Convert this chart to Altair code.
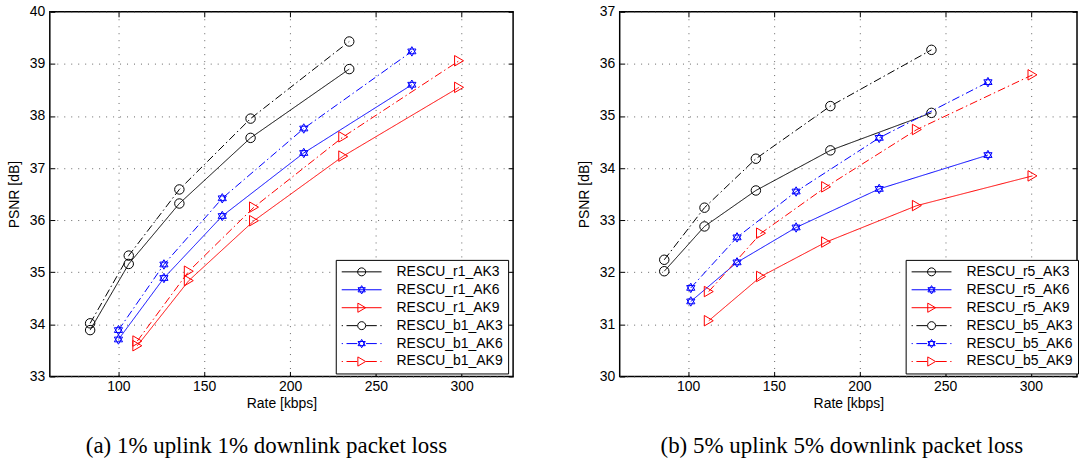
import altair as alt
import pandas as pd

# ---------------- data ----------------
X_TICKS = [100, 150, 200, 250, 300]

names_a = ["RESCU_r1_AK3", "RESCU_r1_AK6", "RESCU_r1_AK9",
           "RESCU_b1_AK3", "RESCU_b1_AK6", "RESCU_b1_AK9"]
rate_a_ak3 = [83.5, 106, 135.5, 177, 234.5]
rate_a_ak6 = [100, 126.5, 160.5, 208, 271]
rate_a_ak9 = [111, 141, 179, 231, 298.5]
psnr_r1_ak3 = [33.89, 35.16, 36.32, 37.58, 38.90]
psnr_r1_ak6 = [33.71, 34.89, 36.08, 37.29, 38.60]
psnr_r1_ak9 = [33.59, 34.84, 35.99, 37.23, 38.55]
psnr_b1_ak3 = [34.02, 35.32, 36.59, 37.95, 39.43]
psnr_b1_ak6 = [33.89, 35.15, 36.42, 37.76, 39.24]
psnr_b1_ak9 = [33.68, 35.02, 36.25, 37.60, 39.06]

names_b = ["RESCU_r5_AK3", "RESCU_r5_AK6", "RESCU_r5_AK9",
           "RESCU_b5_AK3", "RESCU_b5_AK6", "RESCU_b5_AK9"]
rate_b_ak3 = [86, 109.5, 139.5, 183, 242]
rate_b_ak6 = [101.5, 128.5, 163, 211.5, 275]
rate_b_ak9 = [112, 142.5, 180.5, 233.5, 301]
psnr_r5_ak3 = [32.02, 32.88, 33.57, 34.34, 35.06]
psnr_r5_ak6 = [31.44, 32.19, 32.86, 33.60, 34.25]
psnr_r5_ak9 = [31.07, 31.92, 32.58, 33.28, 33.85]
psnr_b5_ak3 = [32.24, 33.24, 34.18, 35.19, 36.27]
psnr_b5_ak6 = [31.70, 32.67, 33.55, 34.58, 35.65]
psnr_b5_ak9 = [31.63, 32.75, 33.64, 34.74, 35.79]

caption_a = "(a) 1% uplink 1% downlink packet loss"
caption_b = "(b) 5% uplink 5% downlink packet loss"

# ---------------- styles ----------------
COLORS = ["#000000", "#0000ff", "#ff0000"] * 2
DASH_DOT = [8, 3, 1.5, 3]
DASHES = [[1, 0]] * 3 + [DASH_DOT] * 3

CIRCLE = "M0.95,0A0.95,0.95,0,1,1,-0.95,0A0.95,0.95,0,1,1,0.95,0Z"
HEXA = ("M0,-0.95L0.823,0.475L-0.823,0.475Z"
        "M0,0.95L0.823,-0.475L-0.823,-0.475Z")
TRI = "M-0.9,-1.05L0.9,0L-0.9,1.05Z"
MARKERS = [CIRCLE, HEXA, TRI] * 2

L_CIRCLE = "M1,0A1,1,0,1,1,-1,0A1,1,0,1,1,1,0Z"
L_HEXA = "M0,-1.05L0.91,0.525L-0.91,0.525ZM0,1.05L0.91,-0.525L-0.91,-0.525Z"
L_TRI = "M-0.95,-1.15L1,0L-0.95,1.15Z"
SOLID_SEG = "M-5,0L5,0"
DD_SEG = "M-5,0L-4.7,0M-3.8,0L-1.1,0M1.1,0L3.8,0M4.7,0L5,0"
LEG_SYMS = [SOLID_SEG + L_CIRCLE, SOLID_SEG + L_HEXA, SOLID_SEG + L_TRI,
            DD_SEG + L_CIRCLE, DD_SEG + L_HEXA, DD_SEG + L_TRI]


def make_df(names, rates, values):
    rows = []
    for n, r, v in zip(names, rates, values):
        for xx, yy in zip(r, v):
            rows.append({"series": n, "rate": xx, "psnr": yy})
    return pd.DataFrame(rows)


df_a = make_df(names_a,
               [rate_a_ak3, rate_a_ak6, rate_a_ak9, rate_a_ak3, rate_a_ak6, rate_a_ak9],
               [psnr_r1_ak3, psnr_r1_ak6, psnr_r1_ak9, psnr_b1_ak3, psnr_b1_ak6, psnr_b1_ak9])
df_b = make_df(names_b,
               [rate_b_ak3, rate_b_ak6, rate_b_ak9, rate_b_ak3, rate_b_ak6, rate_b_ak9],
               [psnr_r5_ak3, psnr_r5_ak6, psnr_r5_ak9, psnr_b5_ak3, psnr_b5_ak6, psnr_b5_ak9])


def panel(df, names, xdom, ydom, caption, width, lx, ly, cap_dx):
    yticks = list(range(ydom[0], ydom[1] + 1))
    xs = alt.Scale(domain=xdom, nice=False, zero=False)
    ys = alt.Scale(domain=ydom, nice=False, zero=False)
    color_sc = alt.Scale(domain=names, range=COLORS)
    base = alt.Chart(df)

    lines = base.mark_line(strokeWidth=1).encode(
        x=alt.X("rate:Q", scale=xs, axis=alt.Axis(
            orient="bottom", values=X_TICKS, grid=True, title="Rate [kbps]",
            offset=-5, tickSize=5, domain=False, labelPadding=3, titlePadding=3)),
        y=alt.Y("psnr:Q", scale=ys, axis=alt.Axis(
            orient="left", values=yticks, grid=True, title="PSNR [dB]",
            offset=-5, tickSize=5, domain=False, labelPadding=5, titlePadding=8)),
        color=alt.Color("series:N", scale=color_sc, legend=None),
        strokeDash=alt.StrokeDash("series:N", scale=alt.Scale(domain=names, range=DASHES), legend=None),
        detail="series:N",
    )
    pts = base.mark_point(filled=False, strokeWidth=1, size=100, opacity=1).encode(
        x=alt.X("rate:Q", scale=xs, axis=alt.Axis(
            orient="top", values=X_TICKS, grid=False, labels=False, title=None,
            offset=-5, tickSize=5, domain=False, minExtent=0, maxExtent=0)),
        y=alt.Y("psnr:Q", scale=ys, axis=alt.Axis(
            orient="right", values=yticks, grid=False, labels=False, title=None,
            offset=-5, tickSize=5, domain=False, minExtent=0, maxExtent=0)),
        color=alt.Color("series:N", scale=color_sc, legend=None),
        shape=alt.Shape("series:N", scale=alt.Scale(domain=names, range=MARKERS), legend=None),
    )
    leg_def = dict(title=None, orient="none", legendX=lx, legendY=ly,
                   strokeColor="black", fillColor="white", padding=5,
                   symbolSize=64, symbolStrokeWidth=1, symbolOffset=14,
                   labelOffset=28, labelFont="Liberation Sans", labelFontSize=14,
                   labelColor="black", rowPadding=4, symbolFillColor="transparent")
    leg = base.transform_filter("false").mark_point(
        filled=False, strokeWidth=1, size=64, opacity=1).encode(
        color=alt.Color("series:N", scale=color_sc, legend=alt.Legend(**leg_def)),
        shape=alt.Shape("series:N", scale=alt.Scale(domain=names, range=LEG_SYMS),
                        legend=alt.Legend(**leg_def)),
    )
    return alt.layer(lines, pts, leg).resolve_scale(
        color="independent", shape="independent", strokeDash="independent"
    ).resolve_axis(x="independent", y="independent").properties(
        width=width, height=366,
        title=alt.TitleParams(caption, orient="bottom", anchor="middle", frame="bounds",
                              font="Liberation Serif", fontSize=23, fontWeight="normal",
                              color="black", offset=25, dx=cap_dx),
    )


left = panel(df_a, names_a, [60, 330], [33, 40], caption_a, 465, 287, 249, 6)
right = panel(df_b, names_b, [60, 327], [30, 37], caption_b, 459, 287, 249, 14)

chart = alt.hconcat(left, right, spacing=61).properties(
    padding={"left": 6, "top": 3, "right": 0, "bottom": 0}
).configure_axis(
    labelFont="Liberation Sans", labelFontSize=14, labelColor="black",
    titleFont="Liberation Sans", titleFontSize=14, titleFontWeight="normal",
    titleColor="black", tickColor="black", tickWidth=1,
    gridColor="#666666", gridDash=[1, 6], gridWidth=1, gridOpacity=1,
).configure_view(stroke="black", strokeWidth=1.5).configure_concat(spacing=61)

chart.save("out.html", embed_options={"renderer": "svg", "actions": False})
